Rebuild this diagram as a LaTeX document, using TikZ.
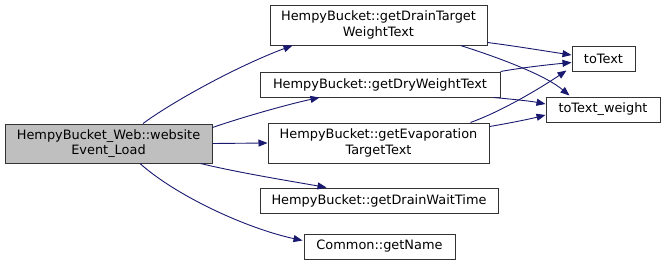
\documentclass[tikz,border=0pt]{standalone}
\usepackage{fontspec}
\setmainfont{DejaVu Sans}
\usetikzlibrary{arrows.meta,calc}
\definecolor{edgeblue}{RGB}{25,25,112}
\definecolor{curfill}{RGB}{191,191,191}
\begin{document}
\begin{tikzpicture}[x=1pt,y=-1pt,
  fn/.style={draw=black!80,line width=1pt,fill=white,inner sep=0pt,align=center,
    font=\fontsize{12.9}{15.5}\selectfont},
  cur/.style={fn,fill=curfill},
  call/.style={draw=edgeblue,line width=0.9pt,-{Triangle[length=9pt,width=7pt]},fill=none}]
\useasboundingbox (0,0) rectangle (665,271);

% functions
\node[cur,minimum width=207pt,minimum height=39pt] (main) at (108.5,143.5) {HempyBucket\_Web::website\\Event\_Load};
\node[fn,minimum width=217pt,minimum height=40pt] (dtw) at (378.5,25) {HempyBucket::getDrainTarget\\WeightText};
\node[fn,minimum width=240pt,minimum height=25pt] (dry) at (380,84.5) {HempyBucket::getDryWeightText};
\node[fn,minimum width=221pt,minimum height=40pt] (evap) at (378.5,143) {HempyBucket::getEvaporation\\TargetText};
\node[fn,minimum width=238pt,minimum height=25pt] (wait) at (379,200.5) {HempyBucket::getDrainWaitTime};
\node[fn,minimum width=151pt,minimum height=25pt] (name) at (379.5,246.5) {Common::getName};
\node[fn,minimum width=63pt,minimum height=25pt] (totext) at (603.5,58.5) {toText};
\node[fn,minimum width=114pt,minimum height=25pt] (totw) at (603,109.5) {toText\_weight};

% calls from websiteEvent_Load
\draw[call] ($(main.north)+(34.5,0)$) .. controls (175,100) and (240,65) .. ($(dtw.south west)+(23,0)$);
\draw[call] ($(main.north east)+(0,4)$) .. controls (240,118) and (285,105) .. ($(dry.south west)+(60,0)$);
\draw[call] (main.east) -- (evap.west);
\draw[call] ($(main.south east)+(-12,0)$) .. controls (240,173) and (290,181) .. ($(wait.north west)+(67,0)$);
\draw[call] ($(main.south)+(31.5,0)$) .. controls (175,195) and (245,228) .. ($(name.west)+(-1,-6)$);

% calls into toText / toText_weight
\draw[call] ($(dtw.south east)+(0,-3)$) .. controls (515,46) and (545,51) .. ($(totext.west)+(0,-3.5)$);
\draw[call] ($(dtw.south east)+(-27,0)$) .. controls (500,58) and (545,75) .. ($(totw.north west)+(24,-1)$);
\draw[call] (dry.north east) .. controls (520,68) and (545,65) .. ($(totext.west)+(0,4)$);
\draw[call] ($(dry.south east)+(-7,0)$) .. controls (510,99) and (530,101) .. ($(totw.west)+(0,-5.5)$);
\draw[call] ($(evap.north east)+(-19,0)$) .. controls (505,110) and (545,85) .. ($(totext.south west)+(-5,-1)$);
\draw[call] ($(evap.north east)+(0,4)$) .. controls (505,124) and (530,119) .. ($(totw.west)+(0,5.5)$);
\end{tikzpicture}
\end{document}
